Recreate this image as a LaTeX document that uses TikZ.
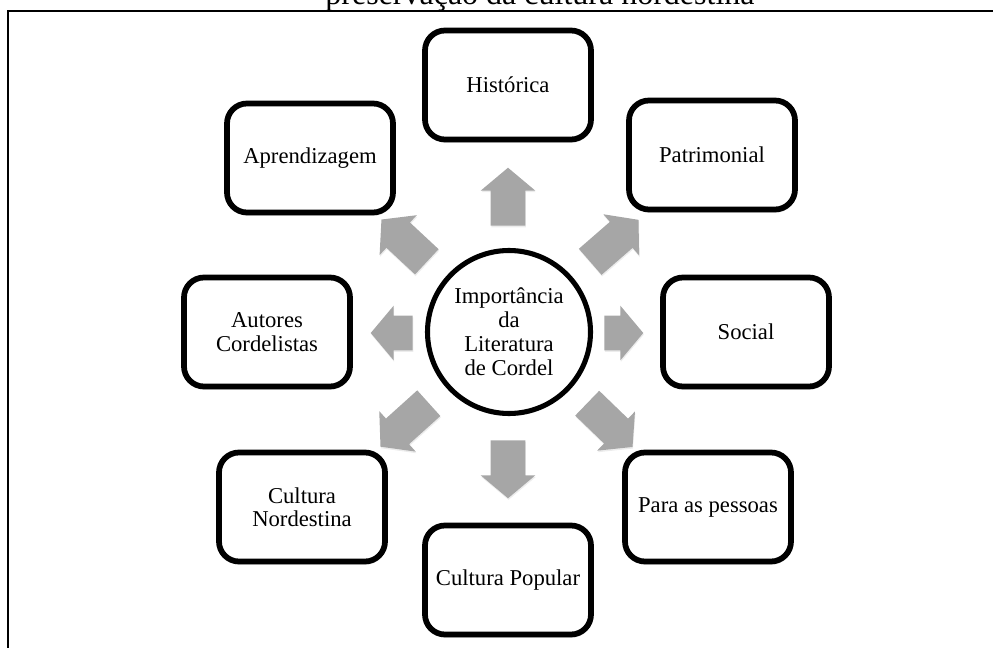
\documentclass[tikz,border=0pt]{standalone}
\usepackage{fontspec}
\setmainfont{Liberation Serif}
\usetikzlibrary{shapes.arrows,shadows}
\definecolor{setacinza}{HTML}{A6A6A6}
\def\px{0.75pt}
\tikzset{
	topico/.style={draw=black, line width=4.3pt, rounded corners=15pt, fill=white,
		minimum width=166*\px, minimum height=109*\px, align=center, inner sep=2pt,
		font=\fontsize{17}{17.5}\selectfont,
		drop shadow={opacity=0.3, shadow xshift=0.5pt, shadow yshift=-2.4pt}},
	nucleo/.style={circle, draw=black, line width=3.8pt, fill=white, minimum size=163*\px,
		align=center, inner sep=0pt, font=\fontsize{17}{18}\selectfont},
	seta/.style={single arrow, fill=setacinza, draw=none, inner sep=0pt,
		text height=34*\px, text depth=0pt, text width=0pt,
		single arrow head extend=10*\px, single arrow tip angle=100,
		anchor=tail, drop shadow={opacity=0.15, shadow xshift=0.4pt, shadow yshift=-1.2pt}}
}

\begin{document}
\begin{tikzpicture}[x=0.75pt, y=-0.75pt]
		%%%%% START %%%%%
		\useasboundingbox (0, 0) rectangle (993, 648);
		\clip (0, 0) rectangle (993, 648);
		
		\node[font=\fontsize{24}{28}\selectfont, anchor=base] (titulo) at (540, 5) {preservação da cultura nordestina};
		\draw[line width=1.6pt] (8, 660) -- (8, 11) -- (1005, 11);
		
		% setas
		\node[seta, rotate=90, minimum height=58*\px] (sUp) at (508, 226) {};
		\node[seta, rotate=41, minimum height=64*\px] (sNE) at (590, 262) {};
		\node[seta, rotate=0, minimum height=39*\px] (sE) at (604, 333) {};
		\node[seta, rotate=-44, minimum height=63*\px] (sSE) at (587, 403) {};
		\node[seta, rotate=-90, minimum height=58*\px] (sDown) at (508, 440) {};
		\node[seta, rotate=-138, minimum height=65*\px] (sSW) at (429, 403) {};
		\node[seta, rotate=180, minimum height=42*\px] (sW) at (413, 333) {};
		\node[seta, rotate=137, minimum height=62*\px] (sNW) at (427, 262) {};
		
		% centro
		\node[nucleo] (imp) at (509, 332) {Importância\\da\\Literatura\\de Cordel};
		
		% topicos
		\node[topico] (hist) at (508, 85) {Histórica};
		\node[topico] (patr) at (712, 155) {Patrimonial};
		\node[topico] (social) at (746, 332) {Social};
		\node[topico] (pessoas) at (708, 507) {Para as pessoas};
		\node[topico] (popular) at (508, 580) {Cultura Popular};
		\node[topico] (nord) at (302, 507) {Cultura\\Nordestina};
		\node[topico] (autor) at (267, 332) {Autores\\Cordelistas};
		\node[topico] (apren) at (310, 158) {Aprendizagem};
		%%%%% END %%%%%
\end{tikzpicture}
\end{document}
